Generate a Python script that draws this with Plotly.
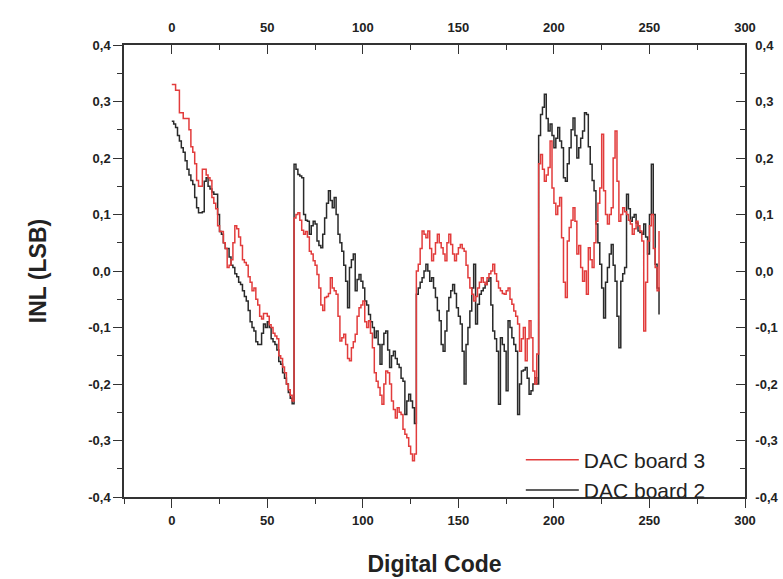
import plotly.graph_objects as go

codes = list(range(256))

inl_board3 = [
    0.33, 0.33, 0.32, 0.32, 0.28, 0.28, 0.27, 0.27, 0.27, 0.25, 0.22, 0.21, 0.19, 0.16, 0.15, 0.15,
    0.18, 0.18, 0.17, 0.165, 0.16, 0.13, 0.12, 0.11, 0.08, 0.07, 0.07, 0.05, 0.04, 0.006, 0.01, 0.02,
    0.05, 0.08, 0.075, 0.06, 0.045, 0.02, 0.015, 0.01, -0.01, -0.02, -0.035, -0.03, -0.05, -0.06, -0.08, -0.085,
    -0.075, -0.075, -0.08, -0.095, -0.1, -0.11, -0.115, -0.12, -0.15, -0.155, -0.17, -0.18, -0.2, -0.21, -0.22, -0.23,
    0.094, 0.1, 0.103, 0.09, 0.072, 0.065, 0.07, 0.06, 0.035, 0.03, 0.018, 0.01, -0.006, -0.03, -0.06, -0.07,
    -0.047, -0.045, -0.04, -0.012, -0.03, -0.035, -0.041, -0.08, -0.124, -0.118, -0.112, -0.13, -0.155, -0.159, -0.136, -0.125,
    -0.112, -0.08, -0.065, -0.06, -0.053, -0.09, -0.1, -0.088, -0.11, -0.136, -0.18, -0.195, -0.206, -0.22, -0.236, -0.2,
    -0.177, -0.18, -0.2, -0.23, -0.245, -0.26, -0.242, -0.25, -0.254, -0.28, -0.289, -0.295, -0.31, -0.324, -0.336, -0.324,
    0.0, 0.012, 0.04, 0.071, 0.065, 0.059, 0.071, 0.04, 0.018, 0.03, 0.05, 0.065, 0.05, 0.041, 0.03, 0.018,
    0.05, 0.065, 0.047, 0.03, 0.018, 0.03, 0.041, 0.047, 0.04, 0.035, 0.01, -0.012, -0.03, -0.041, -0.053, -0.045,
    -0.03, -0.02, -0.012, -0.02, -0.024, -0.012, -0.005, 0.0, 0.012, -0.005, -0.018, -0.03, -0.035, -0.04, -0.041, -0.035,
    -0.03, -0.05, -0.059, -0.071, -0.08, -0.094, -0.142, -0.12, -0.1, -0.159, -0.12, -0.088, -0.118, -0.177, -0.2, -0.147,
    0.19, 0.206, 0.18, 0.159, 0.17, 0.183, 0.23, 0.147, 0.12, 0.1, 0.115, 0.13, 0.059, -0.02, -0.047, 0.053,
    0.077, 0.09, 0.112, 0.088, 0.03, 0.045, 0.006, -0.018, 0.0, -0.041, 0.041, 0.02, 0.006, 0.05, 0.088, 0.12,
    0.147, 0.242, 0.142, 0.1, 0.083, 0.1, 0.112, 0.2, 0.248, 0.159, 0.088, 0.1, 0.112, 0.105, 0.1, 0.09,
    0.083, 0.065, 0.075, 0.088, 0.08, 0.071, 0.053, -0.106, -0.02, 0.053, 0.08, 0.1, 0.04, 0.006, -0.035, 0.071,
]

inl_board2 = [
    0.265, 0.26, 0.254, 0.24, 0.23, 0.218, 0.21, 0.195, 0.18, 0.17, 0.16, 0.153, 0.13, 0.112, 0.103, 0.103,
    0.105, 0.159, 0.165, 0.15, 0.145, 0.14, 0.136, 0.136, 0.1, 0.07, 0.065, 0.05, 0.04, 0.04, 0.025, 0.01,
    0.006, -0.005, -0.01, -0.02, -0.024, -0.035, -0.045, -0.053, -0.07, -0.09, -0.1, -0.106, -0.125, -0.13, -0.13, -0.11,
    -0.094, -0.1, -0.09, -0.1, -0.12, -0.125, -0.13, -0.14, -0.16, -0.165, -0.18, -0.19, -0.2, -0.215, -0.225, -0.235,
    0.189, 0.18, 0.171, 0.168, 0.165, 0.1, 0.09, 0.088, 0.065, 0.08, 0.088, 0.083, 0.053, 0.045, 0.041, 0.065,
    0.094, 0.12, 0.142, 0.125, 0.112, 0.13, 0.1, 0.065, 0.05, 0.035, 0.01, -0.018, -0.065, 0.006, 0.02, 0.03,
    -0.035, -0.015, -0.006, -0.018, -0.03, -0.053, -0.06, -0.077, -0.09, -0.1, -0.118, -0.106, -0.13, -0.165, -0.13, -0.11,
    -0.106, -0.14, -0.171, -0.15, -0.142, -0.155, -0.165, -0.171, -0.19, -0.195, -0.254, -0.23, -0.218, -0.23, -0.242, -0.27,
    -0.041, -0.03, -0.02, -0.012, 0.0, 0.012, 0.0, -0.018, -0.012, -0.03, -0.047, -0.07, -0.088, -0.13, -0.142, -0.106,
    -0.071, -0.047, -0.035, -0.024, -0.04, -0.065, -0.08, -0.094, -0.142, -0.2, -0.13, -0.1, -0.071, -0.03, 0.012, -0.094,
    -0.059, -0.041, -0.035, -0.03, -0.024, -0.018, -0.012, -0.06, -0.106, -0.12, -0.142, -0.236, -0.118, -0.13, -0.142, -0.212,
    -0.088, -0.1, -0.118, -0.13, -0.142, -0.254, -0.2, -0.177, -0.175, -0.171, -0.19, -0.218, -0.212, -0.2, -0.189, -0.2,
    0.24, 0.277, 0.29, 0.313, 0.27, 0.248, 0.26, 0.24, 0.218, 0.235, 0.254, 0.23, 0.218, 0.165, 0.159, 0.19,
    0.218, 0.25, 0.271, 0.24, 0.2, 0.218, 0.235, 0.248, 0.28, 0.277, 0.22, 0.189, 0.16, 0.142, 0.083, 0.05,
    0.012, -0.03, -0.083, -0.02, 0.006, 0.03, 0.047, 0.01, -0.018, -0.08, -0.136, -0.018, -0.005, 0.006, 0.136, 0.11,
    0.088, 0.095, 0.1, 0.085, 0.071, 0.068, 0.065, 0.083, 0.06, 0.03, 0.1, 0.189, 0.1, 0.012, -0.03, -0.077,
]

x_ticks = [0, 50, 100, 150, 200, 250, 300]
y_ticks = [-0.4, -0.3, -0.2, -0.1, 0.0, 0.1, 0.2, 0.3, 0.4]
y_tick_labels = ["-0,4", "-0,3", "-0,2", "-0,1", "0,0", "0,1", "0,2", "0,3", "0,4"]
series_names = ["DAC board 3", "DAC board 2"]

tick_font = dict(family="Liberation Sans, Arial", size=13, color="#222", weight="bold")
title_font = dict(family="Liberation Sans, Arial", size=23, color="#222")

fig = go.Figure()
fig.add_trace(go.Scatter(x=codes, y=inl_board2, mode="lines", name=series_names[1], legendrank=2,
                         line=dict(color="#2a2a2a", width=1.5, shape="hv")))
fig.add_trace(go.Scatter(x=codes, y=inl_board3, mode="lines", name=series_names[0], legendrank=1,
                         line=dict(color="#e23c3c", width=1.5, shape="hv")))

axis_common = dict(showgrid=False, zeroline=False, showline=True, linecolor="#333", linewidth=1.5,
                   tickwidth=1.3, tickcolor="#333", ticklen=9, automargin=False)

fig.update_layout(
    width=783, height=579,
    margin=dict(l=124, r=38, t=45, b=82),
    paper_bgcolor="white", plot_bgcolor="white",
    showlegend=True,
    legend=dict(x=0.639, y=0.127, xanchor="left", yanchor="top", traceorder="normal",
                font=dict(family="Liberation Sans, Arial", size=21, color="#222"),
                bgcolor="rgba(0,0,0,0)", itemwidth=53, tracegroupgap=0),
    xaxis=dict(**axis_common, range=[-25, 300], tickvals=x_ticks, ticktext=[str(v) for v in x_ticks],
               ticks="outside", ticklabelstandoff=2,
               minor=dict(dtick=25, tick0=0, ticks="outside", ticklen=5, tickcolor="#333"),
               tickfont=tick_font,
               title=dict(text="<b>Digital Code</b>", font=title_font, standoff=29)),
    xaxis2=dict(**axis_common, range=[-25, 300], overlaying="x", side="top", anchor="y",
                tickvals=x_ticks, ticktext=[str(v) for v in x_ticks],
                ticks="inside", ticklabelstandoff=6,
                minor=dict(dtick=25, tick0=0, ticks="inside", ticklen=5, tickcolor="#333"),
                tickfont=tick_font),
    yaxis=dict(**axis_common, range=[-0.4, 0.4], tickvals=y_ticks, ticktext=y_tick_labels,
               ticks="outside",
               minor=dict(dtick=0.05, tick0=0, ticks="outside", ticklen=5, tickcolor="#333"),
               tickfont=tick_font,
               title=dict(text="<b>INL (LSB)</b>", font=title_font, standoff=35)),
    yaxis2=dict(**axis_common, range=[-0.4, 0.4], overlaying="y", side="right", anchor="x",
                tickvals=y_ticks, ticktext=y_tick_labels,
                ticks="inside", ticklabelstandoff=6,
                minor=dict(dtick=0.05, tick0=0, ticks="inside", ticklen=5, tickcolor="#333"),
                tickfont=tick_font),
)

fig.add_trace(go.Scatter(x=[None], y=[None], xaxis="x2", yaxis="y2", showlegend=False, hoverinfo="skip"))

fig.write_html("out.html")
